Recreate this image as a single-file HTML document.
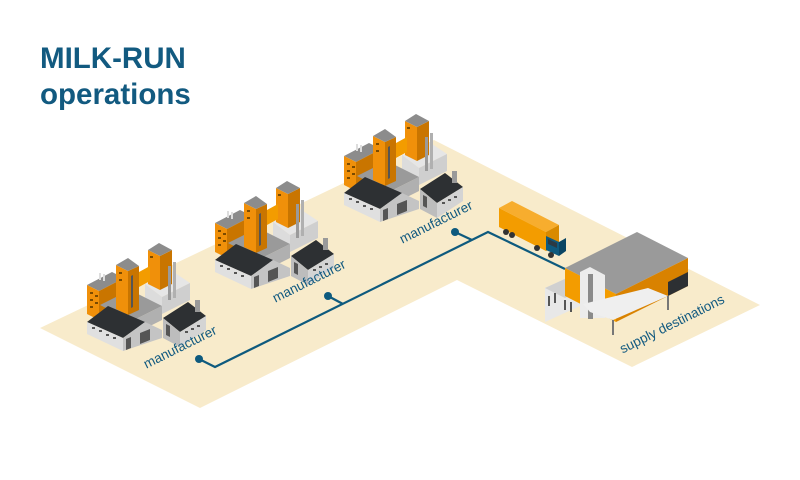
<!DOCTYPE html>
<html><head><meta charset="utf-8"><style>
html,body{margin:0;padding:0;background:#fff;}
svg{display:block}
.t{font-family:"Liberation Sans",sans-serif;fill:#125a80;}
</style></head><body>
<svg id="s" width="800" height="480" viewBox="0 0 800 480" xmlns="http://www.w3.org/2000/svg">
<defs>
<g id="fac">
<polygon points="87,285 112,272 124,278 99,291" fill="#8c8c8c"/>
<polygon points="87,285 99,291 99,320 87,314" fill="#f0900a"/>
<polygon points="99,291 124,278 124,300 99,313" fill="#c97500"/>
<g fill="#7a4a00"><rect x="90" y="292" width="3" height="2"/><rect x="90" y="299" width="3" height="2"/><rect x="90" y="306" width="3" height="2"/><rect x="95" y="295" width="3" height="2"/><rect x="95" y="302" width="3" height="2"/></g>
<rect x="99" y="273" width="2" height="7" fill="#ddd"/><rect x="103" y="274" width="2" height="7" fill="#ddd"/>
<polygon points="145,284 172,271 190,283 162,297" fill="#e6e6e6"/>
<polygon points="162,297 190,283 190,300 162,314" fill="#cfcfcf"/>
<polygon points="145,284 162,297 162,314 145,300" fill="#dcdcdc"/>
<polygon points="100,305 130,290 162,306 132,321" fill="#9a9a9a"/>
<polygon points="132,321 162,306 162,320 132,335" fill="#b0b0b0"/>
<polygon points="148,250 160,256 160,290 148,284" fill="#f0900a"/>
<polygon points="160,256 172,250 172,284 160,290" fill="#c97500"/>
<polygon points="148,250 159,243 172,250 160,256" fill="#8c8c8c"/>
<rect x="168" y="266" width="3" height="34" fill="#9a9a9a"/><rect x="173" y="262" width="3" height="36" fill="#b0b0b0"/>
<polygon points="139,272 150,266 150,281 139,287" fill="#f39c00"/>
<polygon points="116,265 128,271 128,315 116,309" fill="#f0900a"/>
<polygon points="128,271 139,266 139,310 128,315" fill="#c97500"/>
<polygon points="116,265 128,258 139,266 128,271" fill="#8c8c8c"/>
<polygon points="131,276 133,275 133,307 131,308" fill="#555"/>
<g fill="#7a4a00"><rect x="119" y="272" width="3" height="2"/><rect x="119" y="279" width="3" height="2"/><rect x="150" y="256" width="3" height="2"/></g>
<polygon points="87,322 108,306 145,322 123,338" fill="#2d3033"/>
<polygon points="87,322 123,338 123,351 87,334" fill="#e0e0e0"/>
<polygon points="123,338 145,322 162,330 162,338 123,351" fill="#c4c4c4"/>
<g fill="#555"><rect x="92" y="327" width="3" height="2"/><rect x="99" y="330" width="3" height="2"/><rect x="106" y="334" width="3" height="2"/><rect x="113" y="337" width="3" height="2"/>
<polygon points="126,339 131,337 131,348 126,350"/><polygon points="140,333 150,329 150,340 140,344"/></g>
<polygon points="163,318 188,302 206,316 180,332" fill="#2d3033"/>
<polygon points="180,332 206,316 206,330 180,347" fill="#d4d4d4"/>
<polygon points="163,318 180,332 180,347 163,338" fill="#bdbdbd"/>
<g fill="#555"><polygon points="166,324 170,326 170,337 166,335"/><rect x="185" y="331" width="3" height="2"/><rect x="191" y="328" width="3" height="2"/><rect x="197" y="325" width="3" height="2"/></g>
<rect x="195" y="300" width="5" height="12" fill="#9a9a9a"/>
</g>
</defs>
<polygon points="40,328 434,140 760,305 632,367 457,280 200,408" fill="#f8ebcb"/>
<text class="t" x="40" y="68" font-size="29.5" font-weight="bold">MILK-RUN</text>
<text class="t" x="40" y="104" font-size="29.5" font-weight="bold">operations</text>
<use href="#fac"/>
<use href="#fac" transform="translate(128,-62)"/>
<use href="#fac" transform="translate(257,-129)"/>
<g fill="none" stroke="#0e5a7e" stroke-width="2.2">
<polyline points="199,359 215,367 488,232 565,269"/>
<polyline points="328,296 343,304"/>
<polyline points="455,232 472,240"/>
</g>
<g fill="#0e5a7e"><circle cx="199" cy="359" r="4"/><circle cx="328" cy="296" r="4"/><circle cx="455" cy="232" r="4"/></g>
<g id="truck">
<polygon points="512,201 559,225 546,232 499,208" fill="#f7ad2e"/>
<polygon points="499,208 546,232 546,251 499,227" fill="#f39c00"/>
<polygon points="546,232 559,225 559,244 546,251" fill="#d98a00"/>
<polygon points="546,236 559,242 559,256 546,250" fill="#0e5a7e"/>
<polygon points="559,242 566,238 566,251 559,256" fill="#0a4563"/>
<polygon points="548,239 557,243 557,248 548,244" fill="#2b3a44"/>
<g fill="#333"><circle cx="506" cy="232" r="3"/><circle cx="512" cy="235" r="3"/><circle cx="537" cy="248" r="3"/><circle cx="551" cy="255" r="3"/></g>
</g>
<g id="wh">
<polygon points="545,288 580,272 580,306 545,322" fill="#e8e8e8"/>
<polygon points="545,288 580,272 600,282 565,298" fill="#d0d0d0"/>
<polygon points="565,268 637,232 688,258 616,294" fill="#9a9a9a"/>
<polygon points="565,268 616,294 616,322 565,296" fill="#f39c00"/>
<polygon points="616,294 688,258 688,286 616,322" fill="#d98200"/>
<polygon points="668,282 688,272 688,286 668,296" fill="#2d3033"/>
<polygon points="580,272 590,267 605,275 605,318 580,318" fill="#ececec"/>
<rect x="588" y="274" width="5" height="45" fill="#8a8a8a"/>
<polygon points="583,304 648,288 668,296 613,320 590,312" fill="#efefef"/>
<line x1="613" y1="320" x2="613" y2="335" stroke="#777" stroke-width="2"/>
<line x1="668" y1="296" x2="668" y2="310" stroke="#777" stroke-width="2"/>
<g fill="#555"><rect x="548" y="296" width="2" height="10"/><rect x="554" y="293" width="2" height="10"/><rect x="564" y="300" width="2" height="10"/><rect x="570" y="302" width="2" height="10"/></g>
</g>
<text class="t" font-size="13.5" text-anchor="middle" transform="translate(182,351) rotate(-26.5)">manufacturer</text>
<text class="t" font-size="13.5" text-anchor="middle" transform="translate(311,285) rotate(-26.5)">manufacturer</text>
<text class="t" font-size="13.5" text-anchor="middle" transform="translate(438,226) rotate(-26.5)">manufacturer</text>
<text class="t" font-size="13.5" text-anchor="middle" transform="translate(674,328) rotate(-26.5)">supply destinations</text>
</svg>
</body></html>
